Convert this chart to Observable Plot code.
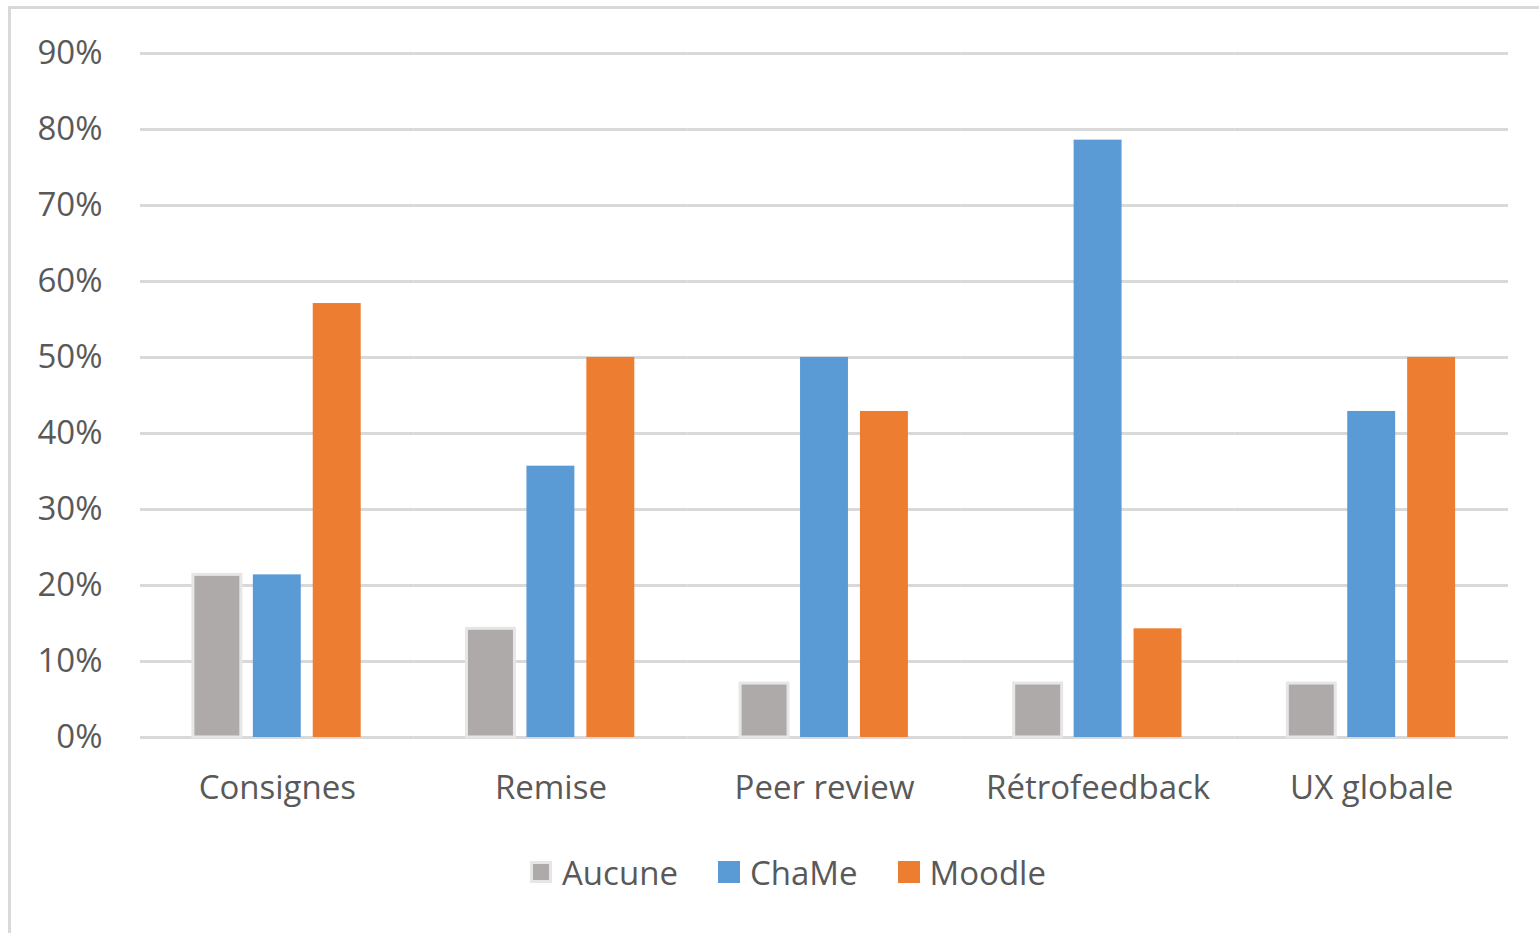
<!DOCTYPE html>
<html>
<head>
<meta charset="utf-8">
<script src="https://cdn.jsdelivr.net/npm/d3@7"></script>
<script src="https://cdn.jsdelivr.net/npm/@observablehq/plot@0.6"></script>
<style>
  html, body { margin: 0; padding: 0; background: #fff; }
  body { width: 1539px; height: 933px; overflow: hidden; position: relative; font-family: "Open Sans", sans-serif; }
  #frame { position: absolute; left: 8px; top: 6px; width: 1600px; height: 1000px;
           border-left: 3px solid #d9d9d9; border-top: 3px solid #d9d9d9; pointer-events: none; }
  #chart svg { display: block; }
  #legend { display: flex; align-items: center; margin-left: 530px; margin-top: 22px; height: 40px;
            color: #595959; font-size: 33px; }
  .item { display: flex; align-items: center; margin-right: 40px; }
  .sw { width: 22px; height: 22px; margin-right: 10px; box-sizing: border-box; }
</style>
</head>
<body>
<div id="chart"></div>
<div id="legend"></div>
<div id="frame"></div>
<script>
const categories = ["Consignes", "Remise", "Peer review", "Rétrofeedback", "UX globale"];
const series = ["Aucune", "ChaMe", "Moodle"];
const aucune = [0.214, 0.143, 0.071, 0.071, 0.071];
const chame  = [0.214, 0.357, 0.500, 0.786, 0.429];
const moodle = [0.571, 0.500, 0.429, 0.143, 0.500];
const yTicks = [0, 0.1, 0.2, 0.3, 0.4, 0.5, 0.6, 0.7, 0.8, 0.9];
const colors = ["#AEAAAA", "#5B9BD5", "#ED7D31"];

const seriesValues = [aucune, chame, moodle];
const table = [];
categories.forEach((c, i) => {
  series.forEach((s, j) => table.push({category: c, series: s, value: seriesValues[j][i]}));
});

const textColor = "#595959";

const plot = Plot.plot({
  width: 1539,
  height: 830,
  marginTop: 53,
  marginBottom: 93,
  marginLeft: 140,
  marginRight: 31,
  style: {fontFamily: "'Open Sans', sans-serif", fontSize: "33px", color: textColor, background: "#fff"},
  fx: {domain: categories, padding: 0, round: false, axis: "bottom", tickSize: 0, tickPadding: 38, label: null},
  x: {domain: series, paddingInner: 0.2, paddingOuter: 0.883, round: false, axis: null},
  y: {domain: [0, 0.9], ticks: yTicks, tickFormat: d => Math.round(d * 100) + "%", tickSize: 0, tickPadding: 38, label: null},
  color: {domain: series, range: colors},
  marks: [
    Plot.ruleY(yTicks, {y: d => d, stroke: "#d9d9d9", strokeWidth: 3}),
    Plot.barY(table, {filter: d => d.series !== "Aucune", fx: "category", x: "series", y: "value", fill: "series"}),
    Plot.barY(table, {filter: d => d.series === "Aucune", fx: "category", x: "series", y: "value",
      fill: colors[0], stroke: "#E7E6E6", strokeWidth: 3})
  ]
});
document.getElementById("chart").appendChild(plot);

const legend = d3.select("#legend");
series.forEach((s, j) => {
  const it = legend.append("div").attr("class", "item");
  const sw = it.append("div").attr("class", "sw").style("background", colors[j]);
  if (j === 0) sw.style("border", "3px solid #E7E6E6");
  it.append("span").text(s);
});
</script>
</body>
</html>
